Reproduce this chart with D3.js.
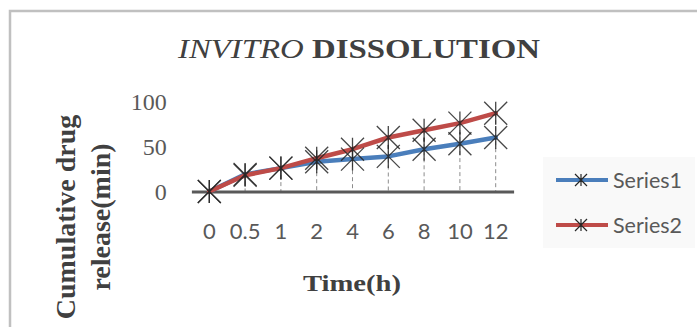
<!DOCTYPE html>
<html>
<head>
<meta charset="utf-8">
<script src="https://cdn.jsdelivr.net/npm/d3@7"></script>
<style>
  body { margin: 0; background: #fff; }
  svg { display: block; }
</style>
</head>
<body>
<div class="chart"></div>
<script>
// values
const timeLabels = ["0", "0.5", "1", "2", "4", "6", "8", "10", "12"];
const series1 = [0, 19, 26, 33, 36, 39, 47, 53, 60];
const series2 = [0, 18, 26, 37, 47, 60, 68, 76, 87];
const yTicks = [0, 50, 100];
const seriesNames = ["Series1", "Series2"];
const seriesColors = ["#4a7ebb", "#be4b48"];

const W = 697, H = 327;
const svg = d3.select(".chart").append("svg")
  .attr("width", W).attr("height", H);

// outer chart frame (runs off the right and bottom edges)
svg.append("rect")
  .attr("x", 10).attr("y", 11)
  .attr("width", 720).attr("height", 340)
  .attr("fill", "#fff")
  .attr("stroke", "#c0c0c0").attr("stroke-width", 2.5);

// title
const title = svg.append("text")
  .attr("x", 178).attr("y", 58)
  .attr("font-family", "Liberation Serif")
  .attr("font-size", 27)
  .attr("fill", "#404040")
  .attr("textLength", 362)
  .attr("lengthAdjust", "spacingAndGlyphs");
title.append("tspan").attr("font-style", "italic").text("INVITRO");
title.append("tspan").attr("font-weight", "bold").text(" DISSOLUTION");

const x = d3.scaleBand()
  .domain(timeLabels)
  .range([191.4, 513.6]);

const y = d3.scaleLinear()
  .domain([0, 100])
  .range([191.5, 101.5]);

const cx = d => x(d) + x.bandwidth() / 2;

// drop lines from highest point to axis
svg.append("g").selectAll("line")
  .data(timeLabels)
  .join("line")
  .attr("x1", d => cx(d)).attr("x2", d => cx(d))
  .attr("y1", (d, i) => y(Math.max(series1[i], series2[i])))
  .attr("y2", y(0))
  .attr("stroke", "#8c8c8c")
  .attr("stroke-width", 1)
  .attr("stroke-dasharray", "4,3");

// x axis
const xAxis = svg.append("g")
  .attr("transform", `translate(0,${y(0)})`)
  .call(d3.axisBottom(x).tickSize(0).tickPadding(31.5));
xAxis.select(".domain")
  .attr("stroke", "#595959").attr("stroke-width", 3);
xAxis.selectAll("text")
  .attr("font-family", "Lato").attr("font-size", 22).attr("fill", "#595959");

// y axis
const yAxis = svg.append("g")
  .attr("transform", `translate(${x.range()[0]},0)`)
  .call(d3.axisLeft(y).tickValues(yTicks).tickSize(0).tickPadding(24.7));
yAxis.select(".domain").remove();
yAxis.selectAll("text")
  .attr("font-family", "Liberation Serif").attr("font-size", 24).attr("fill", "#595959");

// lines
const line = d3.line()
  .x((d, i) => cx(timeLabels[i]))
  .y(d => y(d));

[series1, series2].forEach((s, k) => {
  svg.append("path")
    .datum(s)
    .attr("d", line)
    .attr("fill", "none")
    .attr("stroke", seriesColors[k])
    .attr("stroke-width", 4.5)
    .attr("stroke-linejoin", "round")
    .attr("stroke-linecap", "round");
});

// star markers
const star = r => `M${-r},${-r}L${r},${r}M${r},${-r}L${-r},${r}M0,${-r}L0,${r}`;
[series1, series2].forEach(s => {
  svg.append("g").selectAll("path")
    .data(s)
    .join("path")
    .attr("transform", (d, i) => `translate(${cx(timeLabels[i])},${y(d)})`)
    .attr("d", star(11.5))
    .attr("fill", "none")
    .attr("stroke", "#262626")
    .attr("stroke-opacity", 0.85)
    .attr("stroke-width", 1.3);
});

// axis titles
svg.append("text")
  .attr("x", 303).attr("y", 291)
  .attr("font-family", "Liberation Serif").attr("font-weight", "bold")
  .attr("font-size", 24).attr("fill", "#404040")
  .attr("textLength", 98).attr("lengthAdjust", "spacingAndGlyphs")
  .text("Time(h)");

const yTitle = svg.append("text")
  .attr("transform", "translate(0,217) rotate(-90)")
  .attr("text-anchor", "middle")
  .attr("font-family", "Liberation Serif").attr("font-weight", "bold")
  .attr("font-size", 28).attr("fill", "#404040");
yTitle.append("tspan").attr("x", 0).attr("y", 75).text("Cumulative drug");
yTitle.append("tspan").attr("x", 0).attr("y", 110).text("release(min)");

// legend
const lg = svg.append("g");
lg.append("rect")
  .attr("x", 543).attr("y", 157)
  .attr("width", 152).attr("height", 91)
  .attr("fill", "#f9f9f9");
const items = lg.selectAll("g.item")
  .data(seriesNames)
  .join("g")
  .attr("class", "item")
  .attr("transform", (d, i) => `translate(0,${180 + i * 45})`);
items.append("line")
  .attr("x1", 556).attr("x2", 608)
  .attr("stroke", (d, i) => seriesColors[i])
  .attr("stroke-width", 4);
items.append("path")
  .attr("transform", "translate(581,0)")
  .attr("d", star(6))
  .attr("fill", "none")
  .attr("stroke", "#262626")
  .attr("stroke-width", 1.2);
items.append("text")
  .attr("x", 613).attr("y", 0)
  .attr("dy", "0.35em")
  .attr("font-family", "Lato").attr("font-size", 21.5).attr("fill", "#595959")
  .text(d => d);
</script>
</body>
</html>
